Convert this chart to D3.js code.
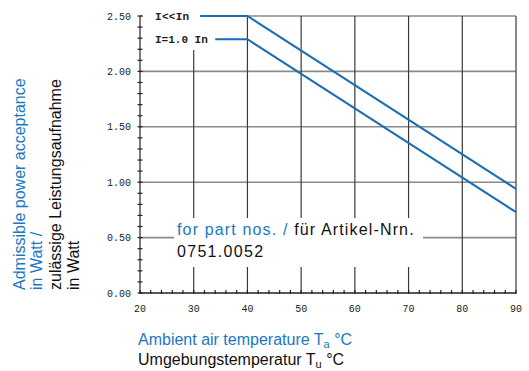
<!DOCTYPE html>
<html>
<head>
<meta charset="utf-8">
<script src="https://cdn.jsdelivr.net/npm/d3@7"></script>
<style>
  body { margin: 0; background: #fff; }
  svg { display: block; }
</style>
</head>
<body>
<div id="chart"></div>
<script>
// Daten aus dem Diagramm
const seriesLabels = ["I<<In", "I=1.0 In"];
const seriesTemps = [[31.2, 40, 90], [34, 40, 90]];
const seriesPower = [[2.5, 2.5, 0.94], [2.29, 2.29, 0.73]];
const xTicks = [20, 30, 40, 50, 60, 70, 80, 90];
const yTicks = [0, 0.5, 1.0, 1.5, 2.0, 2.5];
const yTitleLines = [
  { text: "Admissible power acceptance", blue: true },
  { text: "in Watt /", blue: true },
  { text: "zulässige Leistungsaufnahme", blue: false },
  { text: "in Watt", blue: false }
];

const W = 529, H = 371;
const blue = "#1a78c2";
const lineBlue = "#1a6eb6";
const mono = "'Liberation Mono', 'Courier New', monospace";
const sans = "'Liberation Sans', Arial, sans-serif";

const svg = d3.select("#chart").append("svg")
  .attr("width", W).attr("height", H);

const x = d3.scaleLinear().domain([20, 90]).range([140, 516]);
const y = d3.scaleLinear().domain([0, 2.5]).range([293, 16]);

// Gitterlinien horizontal
svg.append("g").selectAll("line")
  .data(yTicks.filter(d => d > 0))
  .join("line")
  .attr("x1", x(20)).attr("x2", x(90))
  .attr("y1", d => y(d)).attr("y2", d => y(d))
  .attr("stroke", "#8a8a8a").attr("stroke-width", 1.6);

// Gitterlinien vertikal
svg.append("g").selectAll("line")
  .data(xTicks.filter(d => d > 20))
  .join("line")
  .attr("x1", d => x(d)).attr("x2", d => x(d))
  .attr("y1", y(0)).attr("y2", y(2.5))
  .attr("stroke", "#3a3a3a").attr("stroke-width", 1.2);

// Achsen
const yAxis = svg.append("g");
yAxis.append("line")
  .attr("x1", x(20)).attr("x2", x(20))
  .attr("y1", y(0)).attr("y2", y(2.5))
  .attr("stroke", "#222").attr("stroke-width", 1.2);
yAxis.selectAll(".minor")
  .data(d3.range(0, 2.51, 0.1))
  .join("line")
  .attr("x1", x(20) - 2.5).attr("x2", x(20) + 2.5)
  .attr("y1", d => y(d)).attr("y2", d => y(d))
  .attr("stroke", "#222").attr("stroke-width", 1.2);
yAxis.selectAll("text")
  .data(yTicks)
  .join("text")
  .attr("x", 131).attr("y", d => y(d) + 3.5)
  .attr("text-anchor", "end")
  .style("font-family", mono).style("font-size", "10px").attr("fill", "#222")
  .text(d => d3.format(".2f")(d));

const xAxis = svg.append("g");
xAxis.append("line")
  .attr("x1", x(20)).attr("x2", x(90))
  .attr("y1", y(0)).attr("y2", y(0))
  .attr("stroke", "#222").attr("stroke-width", 1.4);
xAxis.selectAll(".minor")
  .data(d3.range(20, 90.1, 2))
  .join("line")
  .attr("x1", d => x(d)).attr("x2", d => x(d))
  .attr("y1", y(0) - 3).attr("y2", y(0) + 1)
  .attr("stroke", "#222").attr("stroke-width", 1.2);
xAxis.selectAll("text")
  .data(xTicks)
  .join("text")
  .attr("x", d => x(d)).attr("y", 312)
  .attr("text-anchor", "middle")
  .style("font-family", mono).style("font-size", "10px").attr("fill", "#222")
  .text(d => d);

// Weiße Fläche hinter den Beschriftungen
svg.append("rect").attr("x", 143).attr("y", 6).attr("width", 57).attr("height", 44).attr("fill", "#fff");
svg.append("rect").attr("x", 174).attr("y", 218).attr("width", 249).attr("height", 49).attr("fill", "#fff");

// Kurven
const line = d3.line().x(d => x(d[0])).y(d => y(d[1]));
seriesTemps.forEach((temps, i) => {
  svg.append("path")
    .datum(temps.map((t, j) => [t, seriesPower[i][j]]))
    .attr("d", line)
    .attr("fill", "none")
    .attr("stroke", lineBlue)
    .attr("stroke-width", 2);
  svg.append("text")
    .attr("x", 155).attr("y", y(seriesPower[i][0]) + 4)
    .style("font-family", mono).style("font-size", "11px").style("font-weight", "bold")
    .style("letter-spacing", i === 0 ? "0.3px" : "0px")
    .attr("fill", "#222")
    .text(seriesLabels[i]);
});

// Hinweis Artikelnummer
const note = svg.append("text").attr("x", 177).attr("y", 235)
  .style("font-family", sans).style("font-size", "16px").style("letter-spacing", "1.15px");
note.append("tspan").attr("fill", blue).text("for part nos. / ");
note.append("tspan").attr("fill", "#111").text("für Artikel-Nrn.");
svg.append("text").attr("x", 177).attr("y", 257)
  .style("font-family", sans).style("font-size", "16px").style("letter-spacing", "1.3px")
  .attr("fill", "#111")
  .text("0751.0052");

// Achsentitel y
const colX = [25, 42, 61, 79];
svg.append("g").selectAll("text")
  .data(yTitleLines)
  .join("text")
  .attr("transform", (d, i) => `translate(${colX[i]},290) rotate(-90)`)
  .style("font-family", sans).style("font-size", "16px")
  .attr("fill", d => d.blue ? blue : "#111")
  .text(d => d.text);

// Achsentitel x
const t1 = svg.append("text").attr("x", 138).attr("y", 345)
  .style("font-family", sans).style("font-size", "16px").attr("fill", blue);
t1.append("tspan").text("Ambient air temperature T");
t1.append("tspan").attr("dy", 2.5).style("font-size", "11px").text("a");
t1.append("tspan").attr("dy", -2.5).text(" °C");
const t2 = svg.append("text").attr("x", 138).attr("y", 365)
  .style("font-family", sans).style("font-size", "16px").attr("fill", "#111");
t2.append("tspan").text("Umgebungstemperatur T");
t2.append("tspan").attr("dy", 2.5).style("font-size", "11px").text("u");
t2.append("tspan").attr("dy", -2.5).text(" °C");
</script>
</body>
</html>
